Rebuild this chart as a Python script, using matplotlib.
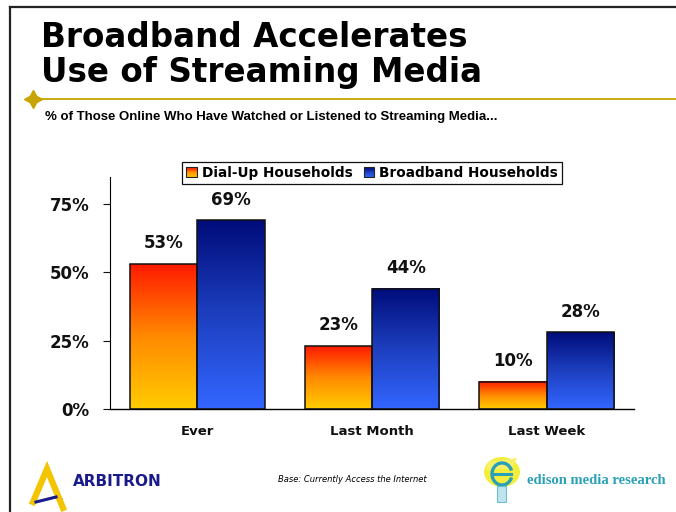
import numpy as np
import matplotlib
matplotlib.use("Agg")
from matplotlib import pyplot as plt
from matplotlib.colors import LinearSegmentedColormap
from matplotlib.legend_handler import HandlerBase
from matplotlib.patches import Rectangle, Ellipse, Arc, Polygon

categories = ["Ever", "Last Month", "Last Week"]
series_names = ["Dial-Up Households", "Broadband Households"]
dialup = [53, 23, 10]
broadband = [69, 44, 28]
yticks = [0, 25, 50, 75]
ytick_labels = ["0%", "25%", "50%", "75%"]

# bottom -> top colours of each bar gradient
dial_cmap = LinearSegmentedColormap.from_list("dial", ["#ffcc00", "#ff8a00", "#ff1a00"])
broad_cmap = LinearSegmentedColormap.from_list("broad", ["#3366ff", "#1d3fbf", "#000c7a"])

W, H = 676, 512
fig = plt.figure(figsize=(W / 100, H / 100), dpi=100)
fig.patch.set_facecolor("white")

# full-figure overlay in pixel units for slide decoration
deco = fig.add_axes([0, 0, 1, 1], zorder=0)
deco.set_xlim(0, W)
deco.set_ylim(H, 0)
deco.axis("off")

deco.plot([10, W], [7, 7], color="#222222", lw=1.6)
deco.plot([10, 10], [7, H], color="#222222", lw=1.6)
deco.plot([33, W], [98.5, 98.5], color="#c8a400", lw=1.3)
deco.plot([33], [98.5], marker=(4, 1, 0), markersize=13, color="#c8a400", mec="#c8a400")

deco.text(41, 47, "Broadband Accelerates", fontsize=23.5, fontweight="bold",
          family="DejaVu Sans", va="baseline", ha="left")
deco.text(41, 82, "Use of Streaming Media", fontsize=23.5, fontweight="bold",
          family="DejaVu Sans", va="baseline", ha="left")
deco.text(45, 117, "% of Those Online Who Have Watched or Listened to Streaming Media...",
          fontsize=9.5, fontweight="bold", family="Liberation Sans", va="center", ha="left")

# Arbitron mark
deco.plot([33, 47, 63], [502, 469, 508], color="#f5c400", lw=4.5, solid_joinstyle="miter")
deco.plot([36, 56], [502, 497], color="#1a1a8c", lw=2.2)
for i in range(4):
    for j in range(3):
        if (i + j) % 2 == 0:
            deco.add_patch(Rectangle((55 + i * 2, 493 + j * 2 + i), 2, 2, color="#7a86c8", lw=0))
deco.text(73, 481.5, "ARBITRON", fontsize=11, fontweight="bold", color="#1a1a8c",
          family="DejaVu Sans", va="center", ha="left")
deco.text(278, 479, "Base: Currently Access the Internet", fontsize=6.0, style="italic",
          family="DejaVu Sans", va="center", ha="left")

# Edison bulb
deco.add_patch(Ellipse((502, 472), 36, 30, color="#f3ee3c", lw=0))
deco.add_patch(Polygon([[488, 462], [517, 458], [512, 468], [486, 470]], color="#f8f06a", lw=0))
deco.add_patch(Arc((502, 474), 20, 22, theta1=20, theta2=340, color="#2aa0b8", lw=2.4))
deco.plot([492, 511], [474, 474], color="#2aa0b8", lw=2.2)
deco.add_patch(Rectangle((497, 486), 9, 16, facecolor="#bfe4ee", edgecolor="#6bbdd0", lw=0.8))
deco.text(527, 481, "edison media research", fontsize=10.5, fontweight="bold",
          family="Liberation Serif", color="#2aa0b8", va="center", ha="left")

# chart area
ax = fig.add_axes([110 / W, 1 - 409 / H, 524 / W, 232.3 / H], zorder=2)
ax.patch.set_alpha(0)
x = np.arange(len(categories))
bw = 0.386
bars_d = ax.bar(x - bw / 2, dialup, bw, facecolor="none", edgecolor="#111111", lw=1.1, zorder=3)
bars_b = ax.bar(x + bw / 2, broadband, bw, facecolor="none", edgecolor="#111111", lw=1.1, zorder=3)

grad = np.linspace(0, 1, 256).reshape(-1, 1)
for bars, cmap in [(bars_d, dial_cmap), (bars_b, broad_cmap)]:
    for b in bars:
        x0, w, h = b.get_x(), b.get_width(), b.get_height()
        ax.imshow(grad, extent=[x0, x0 + w, 0, h], origin="lower", cmap=cmap,
                  aspect="auto", interpolation="bilinear", zorder=2)
        ax.annotate(f"{h:.0f}%", (x0 + w / 2, h), xytext=(0, 15), textcoords="offset points",
                    ha="center", va="center", fontsize=12, fontweight="bold",
                    family="DejaVu Sans", color="#111111")

ax.set_xlim(-0.5, len(categories) - 0.5)
ax.set_ylim(0, 85)
ax.set_yticks(yticks)
ax.set_yticklabels(ytick_labels, fontsize=12, fontweight="bold", family="DejaVu Sans")
ax.set_xticks(x)
ax.set_xticklabels(categories, fontsize=9.5, fontweight="bold", family="DejaVu Sans")
ax.tick_params(axis="y", length=5, width=0.8, pad=10, colors="#111111")
ax.tick_params(axis="x", length=0, pad=11.5, colors="#111111")
for s in ["top", "right"]:
    ax.spines[s].set_visible(False)
ax.spines["left"].set_linewidth(0.8)
ax.spines["bottom"].set_linewidth(1.0)


class GradientSwatch(HandlerBase):
    def __init__(self, cmap):
        super().__init__()
        self.cmap = cmap

    def create_artists(self, legend, orig_handle, xdescent, ydescent, width, height, fontsize, trans):
        n = 12
        side = height
        x0, y0 = -xdescent + (width - side) / 2, -ydescent
        arts = []
        for i in range(n):
            r = Rectangle((x0, y0 + i * side / n), side, side / n + 0.3,
                          facecolor=self.cmap(i / (n - 1)), lw=0, transform=trans)
            arts.append(r)
        arts.append(Rectangle((x0, y0), side, side, facecolor="none", edgecolor="#222222",
                              lw=0.8, transform=trans))
        return arts


h1, h2 = Rectangle((0, 0), 1, 1), Rectangle((0, 0), 1, 1)
leg = ax.legend([h1, h2], series_names, ncol=2, loc="center",
                bbox_to_anchor=(372 / W, 1 - 173 / H), bbox_transform=fig.transFigure,
                handler_map={h1: GradientSwatch(dial_cmap), h2: GradientSwatch(broad_cmap)},
                prop={"family": "DejaVu Sans", "weight": "bold", "size": 9.8},
                frameon=True, fancybox=False, edgecolor="#111111", framealpha=1,
                handlelength=0.8, handleheight=0.8, handletextpad=0.35,
                columnspacing=0.8, borderpad=0.3, borderaxespad=0)
leg.get_frame().set_linewidth(0.9)

fig.savefig("out.png", dpi=100)
